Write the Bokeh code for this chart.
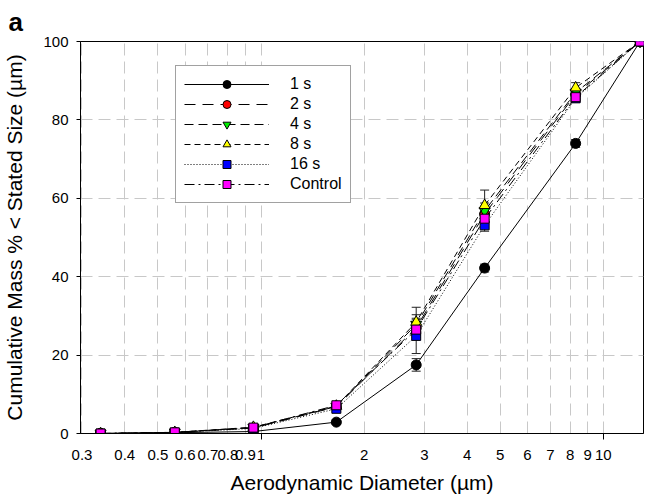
from bokeh.plotting import figure
from bokeh.models import (FixedTicker, Range1d, Legend, LegendItem, Whisker,
                          ColumnDataSource, TeeHead, Title, CustomJSTickFormatter)
from bokeh.embed import file_html
from bokeh.resources import INLINE

# ---- data ----
diameter = [0.34, 0.56, 0.95, 1.66, 2.84, 4.5, 8.3, 12.8]

series_names = ["1 s", "2 s", "4 s", "8 s", "16 s", "Control"]

mass_1s = [0, 0.2, 0.5, 2.9, 17.5, 42.2, 74.0, 100]
mass_2s = [0, 0.3, 1.4, 6.8, 27.0, 56.0, 86.5, 100]
mass_4s = [0, 0.3, 1.5, 6.9, 27.8, 56.8, 87.0, 100]
mass_8s = [0, 0.3, 1.6, 7.0, 28.4, 58.2, 88.2, 100]
mass_16s = [0, 0.2, 1.3, 6.3, 24.9, 53.1, 85.5, 100]
mass_ctrl = [0, 0.3, 1.5, 7.2, 26.5, 54.8, 85.8, 100]

err_1s = [0, 0.1, 0.3, 0.6, 1.6, 1.0, 1.0, 0]
err_2s = [0, 0.1, 0.3, 0.6, 2.0, 2.0, 1.0, 0]
err_4s = [0, 0.1, 0.3, 0.6, 2.5, 2.0, 1.0, 0]
err_8s = [0, 0.1, 0.3, 0.8, 3.8, 3.9, 1.3, 0]
err_16s = [0, 0.1, 0.3, 0.6, 4.5, 1.5, 1.0, 0]
err_ctrl = [0, 0.1, 0.3, 0.5, 1.5, 1.5, 0.8, 0]

x_ticks = [0.3, 0.4, 0.5, 0.6, 0.7, 0.8, 0.9, 1, 2, 3, 4, 5, 6, 7, 8, 9, 10]
y_ticks = [0, 20, 40, 60, 80, 100]

# ---- styles ----
values = [mass_1s, mass_2s, mass_4s, mass_8s, mass_16s, mass_ctrl]
errors = [err_1s, err_2s, err_4s, err_8s, err_16s, err_ctrl]
markers = ["circle", "circle", "inverted_triangle", "triangle", "square", "square"]
fills = ["#000000", "#ff0000", "#00ee00", "#ffff00", "#0000ff", "#ff00ff"]
sizes = [10, 10, 11, 11, 9, 9]
dashes = ["solid", "11 7", "9 5", "6 4", "1 2", "10 4 2 4"]

FONT = "Liberation Sans"

p = figure(width=648, height=499, x_axis_type="log",
           x_range=Range1d(0.297, 13.1), y_range=Range1d(0, 100),
           output_backend="svg", toolbar_location=None,
           min_border_left=80, min_border_right=5,
           min_border_top=41, min_border_bottom=66)

p.background_fill_color = "white"
p.border_fill_color = "white"
p.outline_line_color = "black"
p.outline_line_width = 1

# panel letter
p.add_layout(Title(text="a", align="left", offset=-72, standoff=9,
                   text_font=FONT, text_font_size="26px",
                   text_font_style="bold", text_color="black"), "above")

# x axis
xa = p.xaxis[0]
xa.ticker = FixedTicker(ticks=x_ticks, minor_ticks=[1, 10])
xa.formatter = CustomJSTickFormatter(code="return tick.toString()")
xa.major_tick_line_color = None
xa.major_tick_out = 6
xa.major_tick_in = 0
xa.minor_tick_line_color = "black"
xa.minor_tick_out = 6
xa.minor_tick_in = 0
xa.major_label_standoff = 10
xa.major_label_text_font = FONT
xa.major_label_text_font_size = "15px"
xa.major_label_text_color = "black"
xa.axis_label = "Aerodynamic Diameter (µm)"
xa.axis_label_text_font = FONT
xa.axis_label_text_font_size = "21px"
xa.axis_label_text_font_style = "normal"
xa.axis_label_text_color = "black"
xa.axis_label_standoff = 8
xa.axis_line_color = "black"

# y axis
ya = p.yaxis[0]
ya.ticker = FixedTicker(ticks=y_ticks, minor_ticks=[])
ya.major_tick_out = 4
ya.major_tick_in = 0
ya.major_tick_line_color = "black"
ya.major_label_standoff = 8
ya.major_label_text_font = FONT
ya.major_label_text_font_size = "15px"
ya.major_label_text_color = "black"
ya.axis_label = "Cumulative Mass % < Stated Size (µm)"
ya.axis_label_text_font = FONT
ya.axis_label_text_font_size = "21px"
ya.axis_label_text_font_style = "normal"
ya.axis_label_text_color = "black"
ya.axis_label_standoff = 14
ya.axis_line_color = "black"

# grids
p.xgrid.ticker = FixedTicker(ticks=x_ticks)
p.ygrid.ticker = FixedTicker(ticks=y_ticks)
for g in (p.xgrid[0], p.ygrid[0]):
    g.grid_line_color = "#c8c8c8"
    g.grid_line_dash = "12 6"
    g.grid_line_width = 1

items = []
for name, vals, errs, mk, fc, sz, dash in zip(series_names, values, errors,
                                              markers, fills, sizes, dashes):
    src = ColumnDataSource(dict(
        x=diameter, y=vals,
        upper=[v + e for v, e in zip(vals, errs)],
        lower=[v - e for v, e in zip(vals, errs)],
    ))
    w = Whisker(source=src, base="x", upper="upper", lower="lower",
                line_color="#222222", line_width=1,
                upper_head=TeeHead(size=9, line_color="#222222"),
                lower_head=TeeHead(size=9, line_color="#222222"))
    p.add_layout(w)
    ln = p.line("x", "y", source=src, line_color="black", line_width=1,
                line_dash=dash)
    sc = p.scatter("x", "y", source=src, marker=mk, size=sz,
                   fill_color=fc, line_color="black", line_width=1)
    items.append(LegendItem(label=name, renderers=[ln, sc]))

legend = Legend(items=items, location=(95, 230),
                glyph_width=85, glyph_height=20, spacing=0,
                label_standoff=21, padding=8, label_height=20,
                label_text_font=FONT, label_text_font_size="16px",
                label_text_color="black",
                border_line_color="#444444", border_line_width=1.5,
                background_fill_color="white", background_fill_alpha=1)
p.add_layout(legend, "center")

open("out.html", "w").write(file_html(p, INLINE))
